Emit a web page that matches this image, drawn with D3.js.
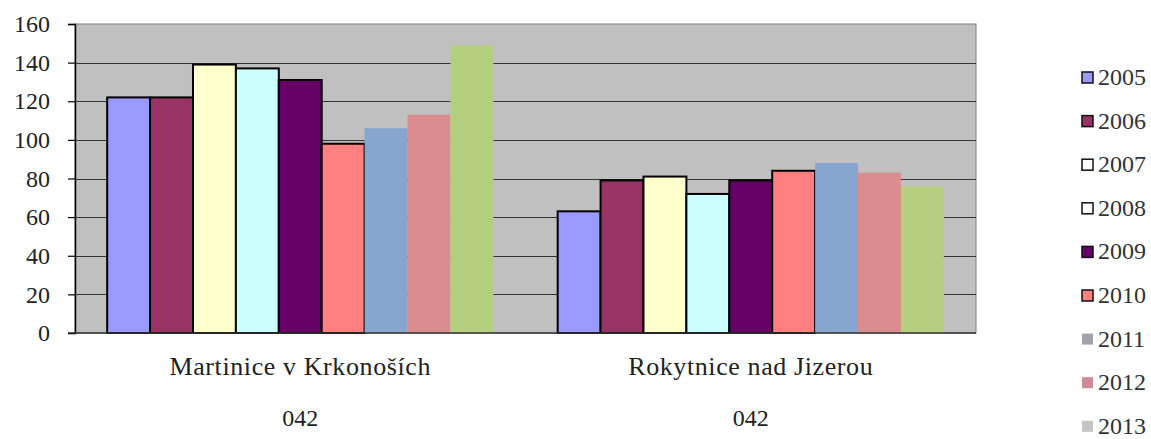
<!DOCTYPE html>
<html>
<head>
<meta charset="utf-8">
<script src="https://cdn.jsdelivr.net/npm/d3@7"></script>
<style>
html,body{margin:0;padding:0;background:#fff;}
svg{display:block;}
</style>
</head>
<body>
<svg id="chart" width="1151" height="439"></svg>
<script>
const categories = ["Martinice v Krkonoších", "Rokytnice nad Jizerou"];
const subLabels = ["042", "042"];
const years = ["2005","2006","2007","2008","2009","2010","2011","2012","2013"];
const values2005 = [122, 63];
const values2006 = [122, 79];
const values2007 = [139, 81];
const values2008 = [137, 72];
const values2009 = [131, 79];
const values2010 = [98, 84];
const values2011 = [106, 88];
const values2012 = [113, 83];
const values2013 = [149, 76];
const seriesValues = [values2005, values2006, values2007, values2008, values2009, values2010, values2011, values2012, values2013];
const barColors = ["#9999FF","#993366","#FFFFCC","#CCFFFF","#660066","#FF8080","#86A6D0","#DA8C8E","#B5CF80"];
const legendColors = ["#9999FF","#993366","#FFFFFF","#FFFFFF","#660066","#FF8080","#A3A4AA","#CC8C9A","#C4C4C4"];
const outlined = [true,true,true,true,true,true,false,false,false];
const yTicks = [0,20,40,60,80,100,120,140,160];

const FONT = "Liberation Serif";
const svg = d3.select("#chart");
const m = {left:75, right:175, top:24, bottom:106};
const W = 1151, H = 439;
const pw = W - m.left - m.right, ph = H - m.top - m.bottom;

const x0 = d3.scaleBand().domain(categories).range([m.left, m.left + pw]).paddingInner(0).paddingOuter(0);
const x1 = d3.scaleBand().domain(years).range([0, x0.bandwidth()]).paddingInner(0).paddingOuter(0.75);
const y = d3.scaleLinear().domain([0,160]).range([m.top + ph, m.top]);

// plot background
svg.append("rect").attr("x", m.left).attr("y", m.top).attr("width", pw).attr("height", ph)
  .attr("fill", "#C0C0C0").attr("stroke", "#808080").attr("stroke-width", 1);

// gridlines
svg.append("g").selectAll("line").data(yTicks.filter(d => d > 0 && d < 160)).join("line")
  .attr("x1", m.left).attr("x2", m.left + pw)
  .attr("y1", d => Math.round(y(d)) + 0.5).attr("y2", d => Math.round(y(d)) + 0.5)
  .attr("stroke", "#333").attr("stroke-width", 1.2);

// bars
const gCat = svg.append("g").selectAll("g").data(categories).join("g")
  .attr("transform", d => `translate(${x0(d)},0)`);
gCat.selectAll("rect").data((c, ci) => years.map((yr, si) => ({yr, si, v: seriesValues[si][ci]}))).join("rect")
  .attr("x", d => x1(d.yr))
  .attr("y", d => y(d.v))
  .attr("width", x1.bandwidth())
  .attr("height", d => y(0) - y(d.v))
  .attr("fill", d => barColors[d.si])
  .attr("stroke", d => outlined[d.si] ? "#000" : "none")
  .attr("stroke-width", 2);

// y axis
const yAxis = d3.axisLeft(y).tickValues(yTicks).tickSize(7).tickPadding(18).tickFormat(d3.format("d"));
const ga = svg.append("g").attr("transform", `translate(${m.left},0)`).call(yAxis);
ga.select(".domain").attr("stroke", "#000").attr("stroke-width", 1.5);
ga.selectAll(".tick line").attr("stroke", "#000").attr("stroke-width", 1.2);
ga.selectAll(".tick text").attr("fill", "#222").attr("font-family", FONT).attr("font-size", 24)
  .style("font-family", FONT);

// x axis baseline
svg.append("line").attr("x1", m.left - 7).attr("x2", m.left + pw).attr("y1", y(0)).attr("y2", y(0))
  .attr("stroke", "#333").attr("stroke-width", 1.5);

// category labels
svg.append("g").selectAll("text").data(categories).join("text")
  .attr("x", d => x0(d) + x0.bandwidth()/2).attr("y", 375)
  .attr("font-family", FONT).attr("font-size", 26).attr("letter-spacing", 0.6).attr("fill", "#222")
  .attr("text-anchor", "middle").text(d => d);
svg.append("g").selectAll("text").data(categories).join("text")
  .attr("x", d => x0(d) + x0.bandwidth()/2).attr("y", 426)
  .attr("font-family", FONT).attr("font-size", 24).attr("fill", "#222")
  .attr("text-anchor", "middle").text((d, i) => subLabels[i]);

// legend
const lg = svg.append("g").selectAll("g").data(years).join("g")
  .attr("transform", (d, i) => `translate(1082, ${77 + i * 43.6})`);
lg.append("rect").attr("x", 0).attr("y", -5).attr("width", 11).attr("height", 11)
  .attr("fill", (d, i) => legendColors[i])
  .attr("stroke", (d, i) => outlined[i] ? "#111" : "none").attr("stroke-width", 1.5);
lg.append("text").attr("x", 16).attr("y", 8).attr("fill", "#333")
  .attr("font-family", FONT).attr("font-size", 24).text(d => d);
</script>
</body>
</html>
